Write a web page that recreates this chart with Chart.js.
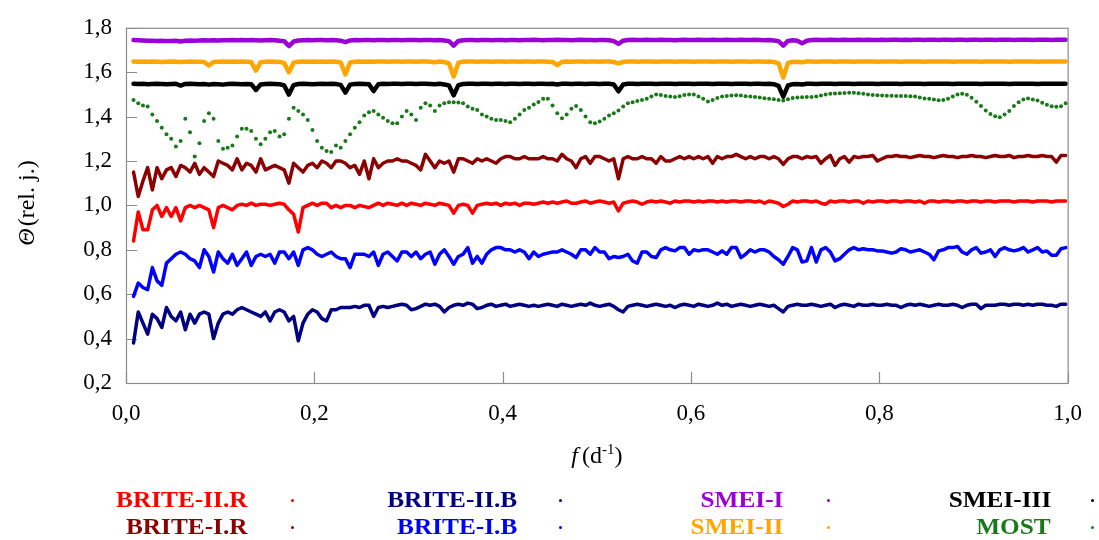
<!DOCTYPE html>
<html>
<head>
<meta charset="utf-8">
<script src="https://cdn.jsdelivr.net/npm/chart.js@4.4.1/dist/chart.umd.min.js"></script>
<style>
  html, body { margin: 0; padding: 0; background: #fff; }
  #wrap { position: relative; width: 1099px; height: 540px; }
  #legend { position: absolute; left: 0; top: 0; width: 1099px; height: 540px; pointer-events: none; }
  .lg-label {
    position: absolute;
    font-family: 'Liberation Serif', 'Times New Roman', serif;
    font-weight: bold;
    font-size: 23px;
    line-height: 26px;
    white-space: nowrap;
    text-align: right;
    transform: scaleX(1.1);
    transform-origin: right center;
  }
  .lg-dot { position: absolute; width: 3px; height: 3px; border-radius: 50%; }
</style>
</head>
<body>
<div id="wrap">
  <canvas id="chart"></canvas>
  <div id="legend"></div>
</div>
<script>
// frequency grid, d^-1
const FREQ = [
  0.008, 0.013, 0.018, 0.023, 0.028, 0.033, 0.038, 0.043, 0.048, 0.053,
  0.058, 0.063, 0.068, 0.073, 0.078, 0.083, 0.088, 0.093, 0.098, 0.103,
  0.108, 0.113, 0.118, 0.123, 0.128, 0.133, 0.138, 0.143, 0.148, 0.153,
  0.158, 0.163, 0.168, 0.173, 0.178, 0.183, 0.188, 0.193, 0.198, 0.203,
  0.208, 0.213, 0.218, 0.223, 0.228, 0.233, 0.238, 0.243, 0.248, 0.253,
  0.258, 0.263, 0.268, 0.273, 0.278, 0.283, 0.288, 0.293, 0.298, 0.303,
  0.308, 0.313, 0.318, 0.323, 0.328, 0.333, 0.338, 0.343, 0.348, 0.353,
  0.358, 0.363, 0.368, 0.373, 0.378, 0.383, 0.388, 0.393, 0.398, 0.403,
  0.408, 0.413, 0.418, 0.423, 0.428, 0.433, 0.438, 0.443, 0.448, 0.453,
  0.458, 0.463, 0.468, 0.473, 0.478, 0.483, 0.488, 0.493, 0.498, 0.503,
  0.508, 0.513, 0.518, 0.523, 0.528, 0.533, 0.538, 0.543, 0.548, 0.553,
  0.558, 0.563, 0.568, 0.573, 0.578, 0.583, 0.588, 0.593, 0.598, 0.603,
  0.608, 0.613, 0.618, 0.623, 0.628, 0.633, 0.638, 0.643, 0.648, 0.653,
  0.658, 0.663, 0.668, 0.673, 0.678, 0.683, 0.688, 0.693, 0.698, 0.703,
  0.708, 0.713, 0.718, 0.723, 0.728, 0.733, 0.738, 0.743, 0.748, 0.753,
  0.758, 0.763, 0.768, 0.773, 0.778, 0.783, 0.788, 0.793, 0.798, 0.803,
  0.808, 0.813, 0.818, 0.823, 0.828, 0.833, 0.838, 0.843, 0.848, 0.853,
  0.858, 0.863, 0.868, 0.873, 0.878, 0.883, 0.888, 0.893, 0.898, 0.903,
  0.908, 0.913, 0.918, 0.923, 0.928, 0.933, 0.938, 0.943, 0.948, 0.953,
  0.958, 0.963, 0.968, 0.973, 0.978, 0.983, 0.988, 0.993, 0.998
];

const SMEI_I = [
  1.745, 1.744, 1.743, 1.742, 1.742, 1.741, 1.742, 1.740, 1.741, 1.742,
  1.738, 1.742, 1.743, 1.742, 1.743, 1.744, 1.743, 1.744, 1.743, 1.744,
  1.744, 1.745, 1.744, 1.745, 1.744, 1.745, 1.744, 1.743, 1.744, 1.745,
  1.744, 1.742, 1.740, 1.718, 1.738, 1.743, 1.744, 1.745, 1.744, 1.745,
  1.745, 1.744, 1.745, 1.744, 1.742, 1.735, 1.743, 1.745, 1.744, 1.745,
  1.745, 1.744, 1.745, 1.745, 1.744, 1.745, 1.745, 1.744, 1.745, 1.745,
  1.745, 1.744, 1.745, 1.745, 1.744, 1.745, 1.743, 1.740, 1.720, 1.741,
  1.744, 1.745, 1.745, 1.744, 1.745, 1.745, 1.744, 1.745, 1.745, 1.744,
  1.745, 1.745, 1.744, 1.745, 1.745, 1.746, 1.745, 1.744, 1.745, 1.745,
  1.746, 1.745, 1.745, 1.744, 1.745, 1.746, 1.745, 1.745, 1.744, 1.745,
  1.745, 1.744, 1.740, 1.728, 1.742, 1.745, 1.746, 1.745, 1.745, 1.746,
  1.745, 1.745, 1.746, 1.745, 1.745, 1.744, 1.745, 1.746, 1.745, 1.745,
  1.746, 1.745, 1.745, 1.746, 1.745, 1.745, 1.746, 1.745, 1.745, 1.746,
  1.745, 1.745, 1.746, 1.745, 1.744, 1.745, 1.743, 1.740, 1.720, 1.741,
  1.744, 1.742, 1.730, 1.742, 1.745, 1.746, 1.745, 1.745, 1.746, 1.745,
  1.745, 1.746, 1.745, 1.745, 1.746, 1.745, 1.746, 1.745, 1.745, 1.746,
  1.745, 1.746, 1.746, 1.745, 1.746, 1.745, 1.746, 1.746, 1.745, 1.746,
  1.746, 1.745, 1.746, 1.746, 1.745, 1.746, 1.746, 1.745, 1.746, 1.746,
  1.745, 1.746, 1.746, 1.745, 1.746, 1.746, 1.746, 1.745, 1.746, 1.746,
  1.746, 1.745, 1.746, 1.746, 1.746, 1.745, 1.746, 1.746, 1.746
];

const SMEI_II = [
  1.648, 1.647, 1.648, 1.647, 1.648, 1.647, 1.646, 1.647, 1.648, 1.647,
  1.646, 1.647, 1.648, 1.647, 1.647, 1.646, 1.630, 1.646, 1.647, 1.648,
  1.647, 1.648, 1.647, 1.648, 1.647, 1.646, 1.607, 1.645, 1.647, 1.648,
  1.647, 1.646, 1.642, 1.600, 1.643, 1.647, 1.648, 1.647, 1.648, 1.647,
  1.648, 1.647, 1.648, 1.647, 1.644, 1.590, 1.644, 1.647, 1.648, 1.647,
  1.648, 1.647, 1.648, 1.648, 1.647, 1.648, 1.648, 1.647, 1.648, 1.648,
  1.647, 1.648, 1.648, 1.647, 1.645, 1.648, 1.646, 1.640, 1.581, 1.643,
  1.647, 1.648, 1.648, 1.647, 1.648, 1.648, 1.647, 1.648, 1.648, 1.647,
  1.648, 1.648, 1.647, 1.648, 1.648, 1.647, 1.648, 1.648, 1.647, 1.646,
  1.632, 1.646, 1.648, 1.647, 1.648, 1.648, 1.647, 1.648, 1.648, 1.647,
  1.648, 1.648, 1.646, 1.640, 1.646, 1.648, 1.648, 1.647, 1.648, 1.648,
  1.648, 1.647, 1.648, 1.648, 1.648, 1.647, 1.648, 1.648, 1.648, 1.647,
  1.648, 1.648, 1.648, 1.647, 1.648, 1.648, 1.648, 1.647, 1.648, 1.648,
  1.648, 1.647, 1.648, 1.648, 1.647, 1.648, 1.646, 1.640, 1.576, 1.642,
  1.646, 1.647, 1.645, 1.648, 1.648, 1.647, 1.648, 1.648, 1.648, 1.647,
  1.648, 1.648, 1.648, 1.647, 1.648, 1.648, 1.648, 1.648, 1.647, 1.648,
  1.648, 1.648, 1.648, 1.647, 1.648, 1.648, 1.648, 1.648, 1.647, 1.648,
  1.648, 1.648, 1.648, 1.648, 1.647, 1.648, 1.648, 1.648, 1.648, 1.648,
  1.647, 1.648, 1.648, 1.648, 1.648, 1.648, 1.647, 1.648, 1.648, 1.648,
  1.648, 1.648, 1.647, 1.648, 1.648, 1.648, 1.648, 1.648, 1.648
];

const SMEI_III = [
  1.548, 1.547, 1.548, 1.546, 1.547, 1.548, 1.547, 1.546, 1.547, 1.548,
  1.540, 1.547, 1.548, 1.547, 1.546, 1.547, 1.544, 1.547, 1.546, 1.544,
  1.547, 1.548, 1.547, 1.546, 1.547, 1.546, 1.520, 1.545, 1.547, 1.548,
  1.547, 1.546, 1.540, 1.499, 1.542, 1.547, 1.548, 1.547, 1.546, 1.547,
  1.548, 1.547, 1.548, 1.547, 1.543, 1.508, 1.544, 1.547, 1.548, 1.547,
  1.546, 1.515, 1.546, 1.548, 1.547, 1.548, 1.548, 1.547, 1.548, 1.548,
  1.547, 1.548, 1.548, 1.547, 1.546, 1.548, 1.545, 1.540, 1.496, 1.542,
  1.547, 1.548, 1.548, 1.547, 1.548, 1.548, 1.547, 1.548, 1.548, 1.547,
  1.548, 1.548, 1.547, 1.548, 1.548, 1.547, 1.548, 1.548, 1.547, 1.548,
  1.545, 1.548, 1.548, 1.547, 1.548, 1.548, 1.547, 1.548, 1.548, 1.547,
  1.548, 1.548, 1.545, 1.514, 1.545, 1.548, 1.548, 1.547, 1.548, 1.548,
  1.548, 1.547, 1.548, 1.548, 1.548, 1.547, 1.548, 1.548, 1.548, 1.547,
  1.548, 1.548, 1.548, 1.547, 1.548, 1.548, 1.548, 1.547, 1.548, 1.548,
  1.548, 1.547, 1.548, 1.548, 1.547, 1.548, 1.546, 1.538, 1.490, 1.540,
  1.546, 1.547, 1.545, 1.548, 1.548, 1.547, 1.548, 1.548, 1.548, 1.547,
  1.548, 1.548, 1.548, 1.547, 1.548, 1.548, 1.548, 1.548, 1.547, 1.548,
  1.548, 1.548, 1.548, 1.547, 1.548, 1.548, 1.548, 1.548, 1.547, 1.548,
  1.548, 1.548, 1.548, 1.548, 1.547, 1.548, 1.548, 1.548, 1.548, 1.548,
  1.547, 1.548, 1.548, 1.548, 1.548, 1.548, 1.547, 1.548, 1.548, 1.548,
  1.548, 1.548, 1.547, 1.548, 1.548, 1.548, 1.548, 1.548, 1.548
];

const MOST = [
  1.475, 1.46, 1.45, 1.445, 1.41, 1.38, 1.35, 1.32, 1.30, 1.265,
  1.29, 1.39, 1.33, 1.22, 1.28, 1.38, 1.415, 1.39, 1.29, 1.255,
  1.26, 1.27, 1.31, 1.345, 1.345, 1.335, 1.30, 1.275, 1.30, 1.33,
  1.335, 1.31, 1.32, 1.39, 1.44, 1.425, 1.41, 1.385, 1.34, 1.29,
  1.26, 1.245, 1.24, 1.27, 1.26, 1.29, 1.32, 1.35, 1.375, 1.405,
  1.42, 1.425, 1.41, 1.395, 1.38, 1.37, 1.37, 1.40, 1.425, 1.41,
  1.385, 1.44, 1.46, 1.45, 1.425, 1.45, 1.46, 1.465, 1.465, 1.463,
  1.46, 1.445, 1.435, 1.43, 1.41, 1.40, 1.39, 1.385, 1.385, 1.38,
  1.375, 1.39, 1.41, 1.43, 1.44, 1.455, 1.466, 1.48, 1.48, 1.45,
  1.415, 1.393, 1.41, 1.435, 1.448, 1.43, 1.40, 1.375, 1.37, 1.378,
  1.39, 1.405, 1.415, 1.428, 1.445, 1.46, 1.465, 1.47, 1.475, 1.48,
  1.49, 1.50, 1.497, 1.493, 1.49, 1.488, 1.492, 1.497, 1.50, 1.50,
  1.49, 1.48, 1.468, 1.475, 1.484, 1.49, 1.493, 1.495, 1.496, 1.495,
  1.492, 1.49, 1.488, 1.486, 1.483, 1.48, 1.478, 1.475, 1.473, 1.478,
  1.484, 1.486, 1.487, 1.488, 1.488, 1.49, 1.495, 1.50, 1.503, 1.504,
  1.505, 1.506, 1.507, 1.507, 1.505, 1.503, 1.50, 1.497, 1.496, 1.495,
  1.494, 1.494, 1.493, 1.493, 1.493, 1.492, 1.49, 1.486, 1.482, 1.48,
  1.477, 1.474, 1.475, 1.48, 1.49, 1.50, 1.503, 1.498, 1.485, 1.467,
  1.448, 1.428, 1.412, 1.402, 1.397, 1.41, 1.425, 1.448, 1.465, 1.477,
  1.481, 1.477, 1.472, 1.462, 1.453, 1.447, 1.444, 1.447, 1.46
];

const BRITE_I_R = [
  1.15, 1.04, 1.11, 1.17, 1.07, 1.17, 1.12, 1.16, 1.17, 1.13,
  1.18, 1.17, 1.15, 1.19, 1.14, 1.17, 1.15, 1.13, 1.20, 1.19,
  1.18, 1.16, 1.21, 1.16, 1.19, 1.18, 1.15, 1.21, 1.16, 1.17,
  1.18, 1.17, 1.16, 1.10, 1.19, 1.17, 1.15, 1.18, 1.19, 1.17,
  1.20, 1.19, 1.17, 1.20, 1.20, 1.19, 1.17, 1.18, 1.14, 1.20,
  1.12, 1.21, 1.17, 1.19, 1.20, 1.20, 1.21, 1.20, 1.20, 1.19,
  1.18, 1.16, 1.23, 1.20, 1.17, 1.20, 1.19, 1.20, 1.15, 1.21,
  1.21, 1.20, 1.19, 1.21, 1.20, 1.21, 1.20, 1.19, 1.21, 1.22,
  1.22, 1.21, 1.21, 1.22, 1.21, 1.21, 1.21, 1.22, 1.21, 1.21,
  1.20, 1.23, 1.21, 1.20, 1.17, 1.21, 1.22, 1.19, 1.22, 1.22,
  1.21, 1.20, 1.21, 1.12, 1.21, 1.22, 1.21, 1.21, 1.22, 1.21,
  1.21, 1.19, 1.22, 1.20, 1.20, 1.21, 1.22, 1.21, 1.22, 1.21,
  1.22, 1.21, 1.22, 1.19, 1.22, 1.21, 1.22, 1.22, 1.23, 1.22,
  1.21, 1.22, 1.21, 1.22, 1.22, 1.21, 1.22, 1.21, 1.185, 1.21,
  1.22, 1.22, 1.21, 1.22, 1.215, 1.22, 1.19, 1.21, 1.225, 1.18,
  1.21, 1.22, 1.195, 1.22, 1.215, 1.22, 1.22, 1.225, 1.20, 1.21,
  1.22, 1.22, 1.225, 1.22, 1.22, 1.215, 1.22, 1.225, 1.22, 1.22,
  1.215, 1.22, 1.225, 1.22, 1.22, 1.215, 1.22, 1.22, 1.225, 1.22,
  1.22, 1.215, 1.22, 1.225, 1.22, 1.22, 1.225, 1.215, 1.22, 1.22,
  1.225, 1.22, 1.22, 1.225, 1.22, 1.22, 1.195, 1.225, 1.225
];

const BRITE_II_R = [
  0.84, 0.97, 0.89, 0.89, 0.98, 1.00, 0.95, 0.99, 0.95, 0.99,
  0.93, 0.99, 1.00, 0.99, 1.00, 0.99, 0.98, 0.90, 0.99, 1.00,
  0.99, 0.98, 1.00, 1.005, 1.00, 1.01, 1.00, 1.005, 1.005, 1.00,
  1.005, 1.01, 1.005, 0.98, 0.96, 0.88, 0.99, 1.00, 1.01, 1.00,
  1.01, 1.01, 0.99, 1.00, 0.99, 1.00, 1.00, 0.99, 1.00, 0.995,
  0.99, 1.00, 1.01, 1.00, 1.01, 1.005, 1.00, 1.01, 1.00, 1.01,
  1.005, 1.00, 1.01, 1.005, 1.00, 1.01, 1.005, 1.00, 0.965, 1.00,
  1.005, 1.00, 0.965, 1.00, 1.005, 1.01, 1.005, 1.01, 1.00, 1.01,
  1.005, 1.01, 1.00, 1.01, 1.01, 1.005, 1.01, 1.015, 1.01, 1.015,
  1.01, 1.015, 1.02, 1.01, 1.01, 1.015, 1.02, 1.01, 1.015, 1.02,
  1.015, 1.01, 1.015, 0.975, 1.01, 1.015, 1.02, 1.015, 1.005, 1.015,
  1.02, 1.015, 1.02, 1.015, 1.01, 1.02, 1.015, 1.02, 1.02, 1.015,
  1.02, 1.015, 1.02, 1.02, 1.015, 1.02, 1.015, 1.02, 1.02, 1.015,
  1.02, 1.02, 1.015, 1.02, 1.01, 1.02, 1.015, 1.01, 0.995, 1.005,
  1.02, 1.015, 1.02, 1.02, 1.015, 1.02, 1.01, 1.005, 1.02, 1.015,
  1.02, 1.02, 1.015, 1.02, 1.02, 1.01, 1.02, 1.015, 1.02, 1.02,
  1.015, 1.02, 1.02, 1.015, 1.02, 1.02, 1.015, 1.02, 1.01, 1.02,
  1.02, 1.015, 1.02, 1.02, 1.015, 1.02, 1.02, 1.015, 1.02, 1.02,
  1.015, 1.02, 1.02, 1.015, 1.02, 1.02, 1.02, 1.015, 1.02, 1.02,
  1.02, 1.015, 1.02, 1.02, 1.02, 1.015, 1.02, 1.02, 1.02
];

const BRITE_I_B = [
  0.59, 0.65, 0.63, 0.62, 0.72, 0.66, 0.64, 0.74, 0.76, 0.78,
  0.79, 0.78, 0.76, 0.75, 0.72, 0.80, 0.77, 0.70, 0.79, 0.76,
  0.74, 0.78, 0.73, 0.76, 0.79, 0.73, 0.77, 0.78, 0.77, 0.78,
  0.74, 0.79, 0.79, 0.76, 0.79, 0.73, 0.80, 0.81, 0.80, 0.78,
  0.77, 0.78, 0.79, 0.77, 0.76, 0.76, 0.72, 0.78, 0.78, 0.78,
  0.77, 0.79, 0.73, 0.78, 0.79, 0.77, 0.75, 0.79, 0.79, 0.77,
  0.79, 0.76, 0.78, 0.79, 0.735, 0.78, 0.80, 0.77, 0.735, 0.77,
  0.78, 0.81, 0.74, 0.77, 0.74, 0.78, 0.80, 0.81, 0.81, 0.80,
  0.80, 0.79, 0.80, 0.79, 0.76, 0.79, 0.77, 0.78, 0.785, 0.79,
  0.79, 0.80, 0.79, 0.78, 0.765, 0.80, 0.80, 0.78, 0.81, 0.79,
  0.79, 0.76, 0.77, 0.765, 0.77, 0.78, 0.75, 0.74, 0.79, 0.79,
  0.77, 0.765, 0.80, 0.81, 0.80, 0.795, 0.81, 0.81, 0.78, 0.80,
  0.795, 0.80, 0.80, 0.79, 0.78, 0.795, 0.78, 0.81, 0.81, 0.765,
  0.78, 0.80, 0.79, 0.80, 0.80, 0.79, 0.77, 0.755, 0.735, 0.77,
  0.81, 0.80, 0.745, 0.75, 0.81, 0.745, 0.80, 0.81, 0.79, 0.75,
  0.76, 0.78, 0.80, 0.81, 0.80, 0.805, 0.80, 0.80, 0.795, 0.795,
  0.79, 0.785, 0.79, 0.805, 0.80, 0.79, 0.795, 0.80, 0.79, 0.78,
  0.755, 0.795, 0.80, 0.81, 0.81, 0.815, 0.79, 0.78, 0.80, 0.81,
  0.785, 0.79, 0.80, 0.77, 0.80, 0.81, 0.80, 0.795, 0.80, 0.81,
  0.79, 0.80, 0.81, 0.79, 0.795, 0.775, 0.775, 0.805, 0.81
];

const BRITE_II_B = [
  0.38, 0.52, 0.47, 0.42, 0.51, 0.49, 0.45, 0.54, 0.50, 0.48,
  0.52, 0.44, 0.51, 0.47, 0.51, 0.52, 0.51, 0.40, 0.47, 0.51,
  0.52, 0.51, 0.53, 0.54, 0.53, 0.52, 0.51, 0.50, 0.52, 0.48,
  0.52, 0.53, 0.52, 0.48, 0.50, 0.39, 0.47, 0.51, 0.53, 0.52,
  0.49, 0.48, 0.53, 0.53, 0.54, 0.54, 0.54, 0.545, 0.54, 0.55,
  0.55, 0.50, 0.54, 0.545, 0.54, 0.545, 0.55, 0.555, 0.55, 0.53,
  0.535, 0.545, 0.555, 0.55, 0.555, 0.545, 0.52, 0.54, 0.55, 0.555,
  0.55, 0.56, 0.555, 0.535, 0.54, 0.55, 0.555, 0.545, 0.55, 0.555,
  0.545, 0.55, 0.555, 0.55, 0.545, 0.55, 0.545, 0.55, 0.555, 0.55,
  0.545, 0.555, 0.55, 0.545, 0.55, 0.555, 0.55, 0.56, 0.55, 0.545,
  0.55, 0.555, 0.545, 0.53, 0.52, 0.545, 0.55, 0.555, 0.55, 0.545,
  0.55, 0.555, 0.55, 0.545, 0.55, 0.54, 0.55, 0.555, 0.55, 0.545,
  0.555, 0.55, 0.545, 0.55, 0.56, 0.55, 0.555, 0.545, 0.55, 0.555,
  0.55, 0.545, 0.55, 0.555, 0.55, 0.545, 0.55, 0.535, 0.52, 0.545,
  0.55, 0.555, 0.55, 0.55, 0.555, 0.55, 0.545, 0.55, 0.555, 0.54,
  0.55, 0.555, 0.55, 0.545, 0.555, 0.55, 0.55, 0.555, 0.55, 0.55,
  0.555, 0.55, 0.55, 0.54, 0.55, 0.555, 0.55, 0.555, 0.55, 0.545,
  0.55, 0.555, 0.55, 0.55, 0.555, 0.55, 0.54, 0.55, 0.555, 0.555,
  0.535, 0.55, 0.55, 0.55, 0.555, 0.555, 0.55, 0.555, 0.555, 0.55,
  0.555, 0.55, 0.555, 0.555, 0.55, 0.55, 0.545, 0.555, 0.555
];

const X_TICKS = [0, 0.2, 0.4, 0.6, 0.8, 1.0];
const Y_TICKS = [0.2, 0.4, 0.6, 0.8, 1.0, 1.2, 1.4, 1.6, 1.8];

// legend layout: label, colour, column, row
const LEGEND = [
  ['BRITE-II.R', '#FF0000', 0, 0],
  ['BRITE-I.R', '#8B0000', 0, 1],
  ['BRITE-II.B', '#000080', 1, 0],
  ['BRITE-I.B', '#0000FF', 1, 1],
  ['SMEI-I', '#9B00D6', 2, 0],
  ['SMEI-II', '#FFA500', 2, 1],
  ['SMEI-III', '#000000', 3, 0],
  ['MOST', '#1A7A1A', 3, 1],
];
const LEGEND_RIGHT = [248, 517, 783, 1051];
const LEGEND_DOT = [292, 560, 828, 1092];
const LEGEND_ROW_Y = [500, 527];

const SERIF = "'Liberation Serif', 'Times New Roman', serif";

function pts(values) {
  return FREQ.map((f, i) => ({ x: f, y: values[i] }));
}

function fmtComma(v) {
  return Number(v).toFixed(1).replace('.', ',');
}

function lineSet(label, values, color, width) {
  return {
    label,
    data: pts(values),
    showLine: true,
    borderColor: color,
    backgroundColor: color,
    borderWidth: width,
    pointRadius: 0,
    borderJoinStyle: 'round',
    borderCapStyle: 'round',
  };
}

const frameTicks = {
  id: 'frameTicks',
  beforeDatasetsDraw(chart) {
    const { ctx, chartArea: a, scales } = chart;
    ctx.save();
    ctx.strokeStyle = '#8c8c8c';
    ctx.lineWidth = 1.2;
    ctx.strokeRect(a.left + 0.5, a.top + 0.5, a.right - a.left, a.bottom - a.top);
    ctx.beginPath();
    Y_TICKS.forEach((v) => {
      const y = Math.round(scales.y.getPixelForValue(v)) + 0.5;
      ctx.moveTo(a.left, y);
      ctx.lineTo(a.left + 11, y);
    });
    X_TICKS.forEach((v) => {
      const x = Math.round(scales.x.getPixelForValue(v)) + 0.5;
      ctx.moveTo(x, a.bottom);
      ctx.lineTo(x, a.bottom - 11);
    });
    ctx.stroke();
    ctx.restore();
  },
};

// axis titles mix italic and upright pieces, so draw them by hand
function drawPieces(ctx, pieces) {
  let w = 0;
  pieces.forEach((p) => {
    ctx.font = p.font;
    p.w = ctx.measureText(p.text).width;
    w += p.w + (p.gap || 0);
  });
  let x = -w / 2;
  pieces.forEach((p) => {
    ctx.font = p.font;
    ctx.fillText(p.text, x, p.dy || 0);
    x += p.w + (p.gap || 0);
  });
}

const axisTitles = {
  id: 'axisTitles',
  afterDraw(chart) {
    const { ctx, chartArea: a } = chart;
    ctx.save();
    ctx.fillStyle = '#000';
    ctx.textBaseline = 'middle';
    ctx.textAlign = 'left';

    ctx.save();
    ctx.translate((a.left + a.right) / 2, 457);
    drawPieces(ctx, [
      { text: 'f', font: `italic 24px ${SERIF}`, gap: 4 },
      { text: '(d', font: `24px ${SERIF}` },
      { text: '-1', font: `15px ${SERIF}`, dy: -7 },
      { text: ')', font: `24px ${SERIF}` },
    ]);
    ctx.restore();

    ctx.save();
    ctx.translate(28, 203);
    ctx.rotate(-Math.PI / 2);
    drawPieces(ctx, [
      { text: 'Θ', font: `italic 24px ${SERIF}`, gap: 2 },
      { text: '(rel. j.)', font: `24px ${SERIF}` },
    ]);
    ctx.restore();

    ctx.restore();
  },
};

function renderLegend() {
  const box = document.getElementById('legend');
  LEGEND.forEach(([label, color, col, row]) => {
    const span = document.createElement('div');
    span.className = 'lg-label';
    span.textContent = label;
    span.style.color = color;
    span.style.right = `${1099 - LEGEND_RIGHT[col]}px`;
    span.style.top = `${LEGEND_ROW_Y[row] - 13}px`;
    box.appendChild(span);

    const dot = document.createElement('div');
    dot.className = 'lg-dot';
    dot.style.background = color;
    dot.style.left = `${LEGEND_DOT[col] - 1.5}px`;
    dot.style.top = `${LEGEND_ROW_Y[row] - 1.5}px`;
    box.appendChild(dot);
  });
}

function renderChart() {
  const canvas = document.getElementById('chart');

  new Chart(canvas, {
    type: 'scatter',
    data: {
      datasets: [
        lineSet('SMEI-I', SMEI_I, '#9B00D6', 4.5),
        lineSet('SMEI-II', SMEI_II, '#FFA500', 4.5),
        lineSet('SMEI-III', SMEI_III, '#000000', 4.5),
        {
          label: 'MOST',
          data: pts(MOST),
          showLine: false,
          pointRadius: 2,
          pointBorderWidth: 0,
          backgroundColor: '#1A7A1A',
          borderColor: '#1A7A1A',
        },
        lineSet('BRITE-I.R', BRITE_I_R, '#8B0000', 3.5),
        lineSet('BRITE-II.R', BRITE_II_R, '#FF0000', 3.5),
        lineSet('BRITE-I.B', BRITE_I_B, '#0000FF', 3.5),
        lineSet('BRITE-II.B', BRITE_II_B, '#000080', 3.5),
      ],
    },
    options: {
      responsive: true,
      maintainAspectRatio: false,
      animation: false,
      layout: { padding: { top: 21, right: 24, left: 0, bottom: 0 } },
      plugins: { legend: { display: false }, tooltip: { enabled: false } },
      scales: {
        x: {
          type: 'linear',
          min: 0,
          max: 1,
          afterFit: (s) => { s.height = 157; },
          afterBuildTicks: (s) => { s.ticks = X_TICKS.map(v => ({ value: v })); },
          grid: { display: false, drawTicks: false },
          border: { display: false },
          ticks: {
            padding: 17,
            color: '#000',
            font: { family: SERIF, size: 23 },
            callback: v => fmtComma(v),
            maxRotation: 0,
          },
        },
        y: {
          min: 0.2,
          max: 1.8,
          afterFit: (s) => { s.width = 126; },
          afterBuildTicks: (s) => { s.ticks = Y_TICKS.map(v => ({ value: v })); },
          grid: { display: false, drawTicks: false },
          border: { display: false },
          ticks: {
            padding: 14,
            color: '#000',
            font: { family: SERIF, size: 23 },
            callback: v => fmtComma(v),
          },
        },
      },
    },
    plugins: [frameTicks, axisTitles],
  });
}

renderChart();
renderLegend();
</script>
</body>
</html>
